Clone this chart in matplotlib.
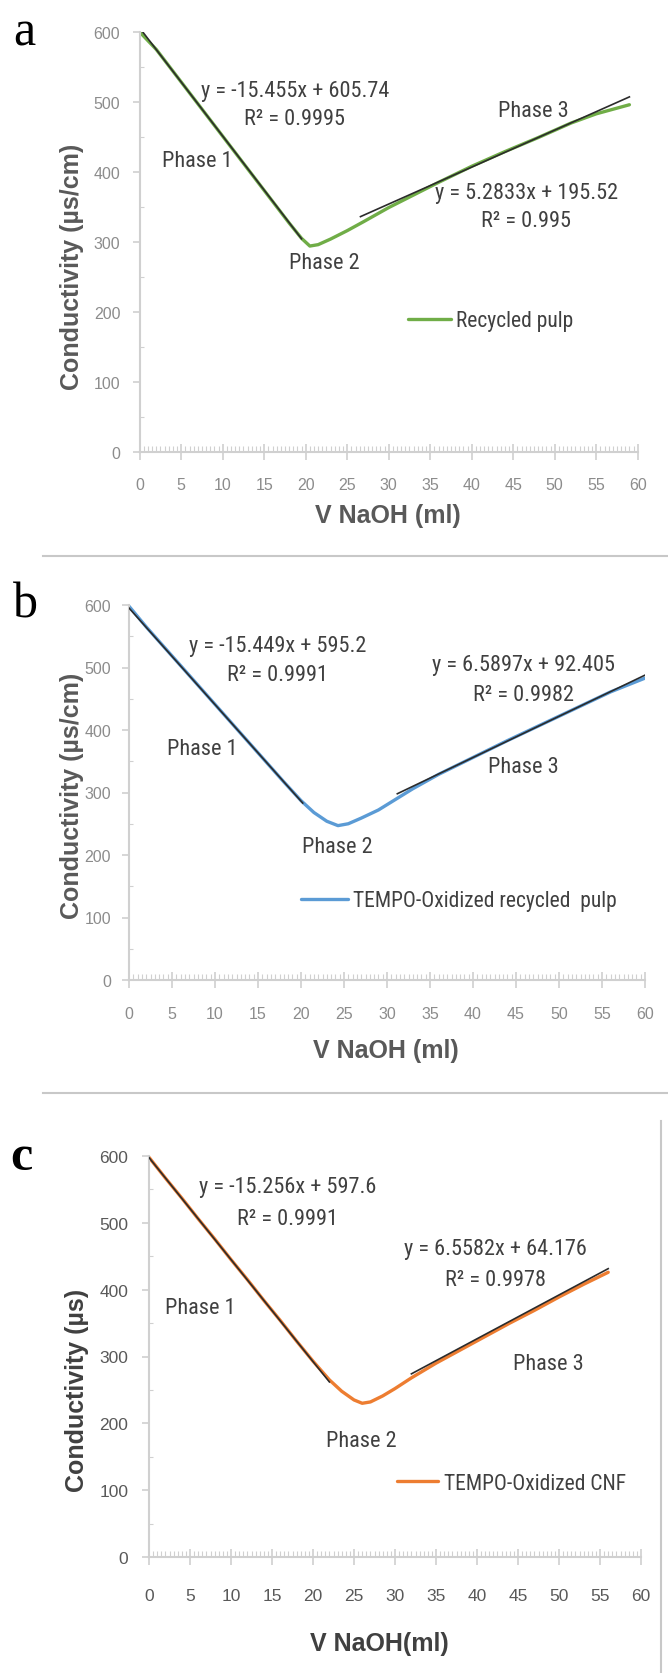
import numpy as np
import matplotlib
matplotlib.use("Agg")
import matplotlib.pyplot as plt
from matplotlib import font_manager
from matplotlib.lines import Line2D
from matplotlib.ticker import MultipleLocator

# --- data ---
# a: recycled pulp
x_a = [0, 2, 4, 6, 8, 10, 12, 14, 16, 18, 19.5, 20.5, 21.5, 23, 25, 27, 30, 33, 36, 40, 44, 48, 52, 55, 59]
y_a = [600, 575, 544, 513, 482, 451, 420, 389, 358, 327, 305, 294, 296, 304, 316, 329, 349, 367, 385, 408, 429, 449, 470, 483, 496]
fit_a = [(-15.455, 605.74, 0.9995), (5.2833, 195.52, 0.995)]
fit_range_a = [(0, 19.5), (26.6, 59)]

# b: TEMPO-oxidized recycled pulp
x_b = [0, 2, 4, 6, 8, 10, 12, 14, 16, 18, 20, 21.5, 23, 24.3, 25.5, 27, 29, 31, 33, 36, 40, 44, 48, 52, 56, 60]
y_b = [598, 565, 534, 503, 472, 441, 410, 379, 348, 317, 287, 268, 254, 247, 250, 259, 272, 289, 306, 329, 356, 383, 409, 435, 461, 483]
fit_b = [(-15.449, 595.2, 0.9991), (6.5897, 92.405, 0.9982)]
fit_range_b = [(0, 20.2), (31.2, 60)]

# c: TEMPO-oxidized CNF
x_c = [0, 2, 4, 6, 8, 10, 12, 14, 16, 18, 20, 22, 23.5, 25, 26, 27, 28.5, 30, 32, 35, 38, 41, 44, 47, 50, 53, 56]
y_c = [598, 567, 537, 506, 476, 445, 415, 384, 354, 323, 293, 265, 248, 235, 230, 232, 241, 252, 268, 290, 310, 330, 350, 369, 389, 408, 426]
fit_c = [(-15.256, 597.6, 0.9991), (6.5582, 64.176, 0.9978)]
fit_range_c = [(0, 22), (32, 56)]

# narrow font if there is one, otherwise Liberation Sans a bit smaller
names = {f.name for f in font_manager.fontManager.ttflist}
NARROW, TXT = "Liberation Sans", 14
for cand in ["Liberation Sans Narrow", "Roboto Condensed", "Open Sans Condensed", "Noto Sans Condensed"]:
    if cand in names:
        NARROW, TXT = cand, 16
        break
LEG = TXT - 0.5

W, H = 668, 1674
fig = plt.figure(figsize=(W / 100, H / 100), dpi=100)


def box(left, right, top, bottom):
    return [left / W, 1 - bottom / H, (right - left) / W, (bottom - top) / H]


def fmt_eq(m, b):
    sign = "+" if b >= 0 else "-"
    return f"y = {m:g}x {sign} {abs(b):g}"


def panel(rect, x, y, color, fits, ranges, label, texts, leg_xy, handlelen,
          tick_col, tick_size, xpad, ypad):
    ax = fig.add_axes(rect)
    ax.plot(x, y, color=color, lw=2.4, solid_capstyle="round", label=label, zorder=2)
    for (m, b, r2), (x0, x1) in zip(fits, ranges):
        xx = np.array([x0, x1])
        ax.plot(xx, m * xx + b, color="#2b2b2b", lw=1.2, zorder=3)
    ax.set_xlim(0, 60)
    ax.set_ylim(0, 600)
    ax.xaxis.set_major_locator(MultipleLocator(5))
    ax.xaxis.set_minor_locator(MultipleLocator(0.5))
    ax.yaxis.set_major_locator(MultipleLocator(100))
    ax.yaxis.set_minor_locator(MultipleLocator(50))
    for s in ["top", "right"]:
        ax.spines[s].set_visible(False)
    for s in ["left", "bottom"]:
        ax.spines[s].set_color("#d0d0d0")
        ax.spines[s].set_linewidth(1.5)
    ax.tick_params(axis="x", which="major", direction="inout", length=12, width=1.2,
                   color="#d0d0d0", pad=xpad, labelsize=tick_size, labelcolor=tick_col)
    ax.tick_params(axis="x", which="minor", direction="in", length=4, width=0.8, color="#d0d0d0")
    ax.tick_params(axis="y", which="major", direction="out", length=5, width=1.2,
                   color="#d0d0d0", pad=ypad, labelsize=tick_size, labelcolor=tick_col)
    ax.tick_params(axis="y", which="minor", direction="in", length=3, width=0.8, color="#d0d0d0")
    for t in ax.get_xticklabels() + ax.get_yticklabels():
        t.set_family("Liberation Sans")
    ax.patch.set_alpha(0)

    (e1x, e1y, r1y), (e2x, e2y, r2y), phases = texts
    for (m, b, r2), ex, ey, ry in [(fits[0], e1x, e1y, r1y), (fits[1], e2x, e2y, r2y)]:
        ax.text(ex, ey, fmt_eq(m, b), ha="center", va="center", fontsize=TXT,
                family=NARROW, color="#404040")
        ax.text(ex, ry, f"R² = {r2:g}", ha="center", va="center", fontsize=TXT,
                family=NARROW, color="#404040")
    for i, (px_, py_) in enumerate(phases):
        ax.text(px_, py_, f"Phase {i + 1}", ha="center", va="center", fontsize=TXT,
                family=NARROW, color="#404040")
    ax.legend(loc="center left", bbox_to_anchor=leg_xy, bbox_transform=ax.transData,
              frameon=False, borderpad=0, borderaxespad=0, handlelength=handlelen,
              handletextpad=0.25, prop={"family": NARROW, "size": LEG},
              labelcolor="#404040")
    return ax


panel(box(139.7, 637.7, 33, 452.7), x_a, y_a, "#70AD47", fit_a, fit_range_a,
      "Recycled pulp",
      [(18.7, 517, 476), (46.6, 371, 330), [(6.9, 417), (22.3, 270), (47.4, 488)]],
      (32.3, 187), 2.0, "#8c8c8c", 11.5, 12.5, 9)
panel(box(129, 645, 606, 981), x_b, y_b, "#5B9BD5", fit_b, fit_range_b,
      "TEMPO-Oxidized recycled  pulp",
      [(17.3, 535, 489), (45.9, 504, 457), [(8.5, 370), (24.2, 214), (45.9, 341)]],
      (19.95, 127), 2.2, "#8c8c8c", 11.5, 12.5, 8)
panel(box(149, 641, 1157, 1558), x_c, y_c, "#ED7D31", fit_c, fit_range_c,
      "TEMPO-Oxidized CNF",
      [(16.9, 555, 507), (42.3, 462, 415), [(6.2, 374), (25.9, 175), (48.7, 289)]],
      (30.3, 110), 1.9, "#595959", 12.5, 16.5, 10)

# axis titles
def ftext(x, y, s, **kw):
    fig.text(x / W, 1 - y / H, s, ha="center", va="center", family="Liberation Sans",
             weight="bold", **kw)

ftext(72, 267, "Conductivity (µs/cm)", rotation=90, fontsize=18, color="#595959")
ftext(388, 516, "V NaOH (ml)", fontsize=18, color="#595959")
ftext(72, 796, "Conductivity (µs/cm)", rotation=90, fontsize=18, color="#595959")
ftext(386, 1051, "V NaOH (ml)", fontsize=18, color="#595959")
ftext(77, 1390, "Conductivity (µs)", rotation=90, fontsize=18, color="#404040")
ftext(379, 1644, "V NaOH(ml)", fontsize=18, color="#404040")

# panel letters (c is set heavier in the original)
for lx, ly, s, wt in [(13, 45, "a", "normal"), (13, 617, "b", "normal"), (10, 1170, "c", "bold")]:
    fig.text(lx / W, 1 - ly / H, s, ha="left", va="baseline", family="Liberation Serif",
             fontsize=36, weight=wt, color="black")

# separators
for yy in [557, 1094]:
    fig.add_artist(Line2D([43 / W, 1], [1 - yy / H] * 2, transform=fig.transFigure,
                          color="#c8c8c8", lw=1.5))
fig.add_artist(Line2D([661 / W] * 2, [1 - 1122 / H, 0], transform=fig.transFigure,
                      color="#c8c8c8", lw=1.5))

fig.savefig("out.png", dpi=100)
